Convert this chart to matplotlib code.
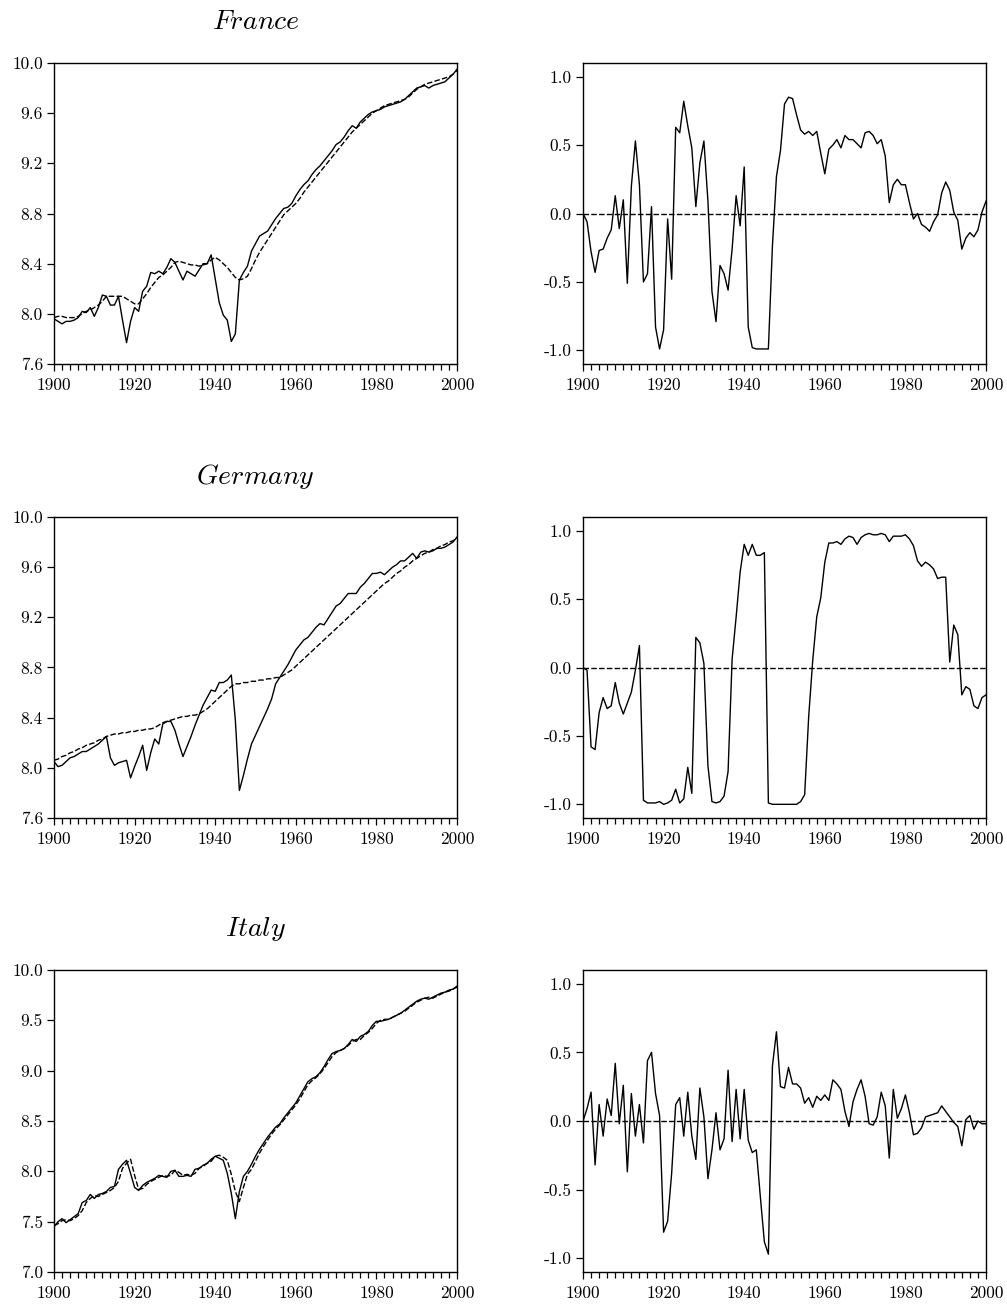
import numpy as np
import matplotlib
matplotlib.use("Agg")
import matplotlib.pyplot as plt
from matplotlib.ticker import MultipleLocator, FixedLocator, FixedFormatter

plt.rcParams["font.family"] = "serif"
plt.rcParams["font.serif"] = ["cmr10", "DejaVu Serif"]
plt.rcParams["mathtext.fontset"] = "cm"
plt.rcParams["axes.unicode_minus"] = False
plt.rcParams["axes.linewidth"] = 1.0

years = np.arange(1900, 2001)

countries = ["France", "Germany", "Italy"]

# log real GDP per capita (solid) and its trend (dashed)
france_gdp = [
    7.96, 7.94, 7.92, 7.94, 7.94, 7.95, 7.97, 8.02, 8.01, 8.05,
    7.98, 8.05, 8.15, 8.14, 8.07, 8.07, 8.14, 7.95, 7.77, 7.94,
    8.05, 8.02, 8.18, 8.22, 8.33, 8.32, 8.34, 8.32, 8.37, 8.44,
    8.41, 8.34, 8.27, 8.34, 8.32, 8.30, 8.35, 8.40, 8.40, 8.47,
    8.28, 8.09, 7.99, 7.95, 7.78, 7.84, 8.27, 8.33, 8.38, 8.50,
    8.56, 8.62, 8.64, 8.66, 8.71, 8.76, 8.80, 8.84, 8.85, 8.88,
    8.94, 8.99, 9.03, 9.06, 9.11, 9.15, 9.18, 9.22, 9.26, 9.30,
    9.35, 9.37, 9.41, 9.46, 9.50, 9.48, 9.53, 9.56, 9.59, 9.61,
    9.62, 9.63, 9.65, 9.66, 9.67, 9.68, 9.69, 9.71, 9.74, 9.77,
    9.80, 9.81, 9.82, 9.80, 9.82, 9.83, 9.84, 9.85, 9.88, 9.91,
    9.95,
]
france_trend = [
    7.97, 7.98, 7.98, 7.97, 7.97, 7.97, 7.98, 8.00, 8.02, 8.03,
    8.05, 8.07, 8.10, 8.14, 8.14, 8.14, 8.14, 8.14, 8.12, 8.10,
    8.08, 8.08, 8.12, 8.16, 8.21, 8.25, 8.29, 8.31, 8.34, 8.37,
    8.41, 8.42, 8.41, 8.40, 8.39, 8.39, 8.38, 8.39, 8.40, 8.43,
    8.45, 8.43, 8.40, 8.37, 8.33, 8.29, 8.27, 8.28, 8.30, 8.36,
    8.43, 8.49, 8.54, 8.59, 8.64, 8.69, 8.74, 8.79, 8.82, 8.85,
    8.88, 8.92, 8.97, 9.01, 9.05, 9.09, 9.13, 9.17, 9.21, 9.25,
    9.29, 9.33, 9.37, 9.41, 9.45, 9.48, 9.51, 9.54, 9.57, 9.60,
    9.62, 9.64, 9.66, 9.67, 9.68, 9.69, 9.70, 9.71, 9.73, 9.76,
    9.79, 9.81, 9.83, 9.84, 9.85, 9.86, 9.87, 9.88, 9.89, 9.91,
    9.94,
]
germany_gdp = [
    8.05, 8.01, 8.02, 8.05, 8.08, 8.09, 8.11, 8.13, 8.13, 8.15,
    8.17, 8.19, 8.22, 8.25, 8.08, 8.02, 8.04, 8.05, 8.06, 7.92,
    8.01, 8.09, 8.18, 7.98, 8.12, 8.23, 8.19, 8.35, 8.37, 8.37,
    8.30, 8.19, 8.09, 8.17, 8.25, 8.34, 8.42, 8.50, 8.56, 8.62,
    8.61, 8.68, 8.68, 8.70, 8.74, 8.38, 7.82, 7.94, 8.07, 8.19,
    8.26, 8.33, 8.40, 8.47, 8.55, 8.67, 8.72, 8.77, 8.82, 8.88,
    8.94, 8.98, 9.02, 9.04, 9.08, 9.12, 9.15, 9.14, 9.19, 9.24,
    9.29, 9.31, 9.35, 9.39, 9.39, 9.39, 9.44, 9.47, 9.51, 9.55,
    9.55, 9.56, 9.54, 9.57, 9.60, 9.62, 9.65, 9.65, 9.68, 9.71,
    9.67, 9.72, 9.73, 9.72, 9.73, 9.75, 9.75, 9.76, 9.78, 9.80,
    9.84,
]
germany_trend = [
    8.06, 8.07, 8.09, 8.10, 8.12, 8.13, 8.15, 8.16, 8.18, 8.19,
    8.20, 8.22, 8.23, 8.25, 8.26, 8.27, 8.27, 8.28, 8.28, 8.29,
    8.29, 8.30, 8.30, 8.31, 8.31, 8.32, 8.34, 8.36, 8.37, 8.38,
    8.39, 8.40, 8.41, 8.41, 8.42, 8.42, 8.43, 8.45, 8.47, 8.50,
    8.53, 8.56, 8.59, 8.62, 8.65, 8.67, 8.67, 8.68, 8.68, 8.69,
    8.69, 8.70, 8.70, 8.71, 8.71, 8.72, 8.72, 8.74, 8.76, 8.78,
    8.81, 8.84, 8.87, 8.90, 8.93, 8.96, 8.99, 9.02, 9.05, 9.08,
    9.11, 9.14, 9.17, 9.20, 9.23, 9.26, 9.29, 9.32, 9.35, 9.38,
    9.41, 9.44, 9.47, 9.49, 9.52, 9.55, 9.57, 9.60, 9.62, 9.65,
    9.67, 9.69, 9.71, 9.72, 9.74, 9.75, 9.77, 9.78, 9.80, 9.81,
    9.83,
]
italy_gdp = [
    7.45, 7.50, 7.53, 7.49, 7.52, 7.55, 7.58, 7.69, 7.71, 7.77,
    7.73, 7.77, 7.78, 7.80, 7.84, 7.85, 8.02, 8.07, 8.11, 7.98,
    7.84, 7.81, 7.86, 7.89, 7.91, 7.93, 7.96, 7.95, 7.94, 8.00,
    8.01, 7.95, 7.95, 7.96, 7.95, 8.02, 8.03, 8.06, 8.08, 8.12,
    8.15, 8.13, 8.11, 7.98, 7.78, 7.53, 7.80, 7.95, 8.00, 8.07,
    8.15, 8.22, 8.28, 8.34, 8.39, 8.44, 8.47, 8.53, 8.58, 8.63,
    8.68, 8.75, 8.82, 8.89, 8.92, 8.94, 8.98, 9.04, 9.11, 9.17,
    9.19, 9.20, 9.22, 9.26, 9.31, 9.29, 9.34, 9.36, 9.39, 9.45,
    9.49, 9.49, 9.50, 9.51, 9.53, 9.55, 9.57, 9.60, 9.63, 9.66,
    9.69, 9.71, 9.72, 9.71, 9.73, 9.75, 9.77, 9.78, 9.80, 9.81,
    9.84,
]
italy_trend = [
    7.46, 7.48, 7.51, 7.52, 7.51, 7.53, 7.56, 7.61, 7.69, 7.73,
    7.76, 7.75, 7.77, 7.79, 7.81, 7.84, 7.90, 8.03, 8.08, 8.12,
    7.96, 7.82, 7.83, 7.87, 7.90, 7.92, 7.94, 7.96, 7.95, 7.96,
    8.01, 7.99, 7.96, 7.97, 7.96, 7.98, 8.03, 8.05, 8.08, 8.10,
    8.15, 8.16, 8.14, 8.11, 7.97, 7.80, 7.70, 7.84, 7.97, 8.02,
    8.10, 8.18, 8.25, 8.31, 8.37, 8.42, 8.46, 8.51, 8.56, 8.61,
    8.66, 8.72, 8.79, 8.86, 8.90, 8.93, 8.97, 9.02, 9.08, 9.14,
    9.18, 9.20, 9.22, 9.25, 9.29, 9.31, 9.31, 9.35, 9.38, 9.42,
    9.47, 9.50, 9.51, 9.51, 9.53, 9.55, 9.57, 9.59, 9.62, 9.65,
    9.68, 9.70, 9.72, 9.73, 9.72, 9.74, 9.76, 9.78, 9.79, 9.81,
    9.83,
]

# cyclical index in [-1, 1]
france_index = [
    0.00, -0.06, -0.28, -0.43, -0.27, -0.26, -0.18, -0.12, 0.13, -0.11,
    0.10, -0.51, 0.20, 0.53, 0.21, -0.50, -0.44, 0.05, -0.83, -0.99,
    -0.85, -0.04, -0.48, 0.63, 0.59, 0.82, 0.64, 0.48, 0.05, 0.37,
    0.53, 0.09, -0.57, -0.79, -0.38, -0.44, -0.56, -0.26, 0.13, -0.09,
    0.34, -0.83, -0.98, -0.99, -0.99, -0.99, -0.99, -0.24, 0.27, 0.46,
    0.80, 0.85, 0.84, 0.72, 0.61, 0.58, 0.60, 0.57, 0.60, 0.44,
    0.29, 0.47, 0.50, 0.54, 0.48, 0.57, 0.54, 0.54, 0.51, 0.48,
    0.59, 0.60, 0.57, 0.51, 0.54, 0.42, 0.08, 0.21, 0.25, 0.21,
    0.21, 0.08, -0.04, 0.00, -0.08, -0.10, -0.13, -0.06, -0.01, 0.15,
    0.23, 0.17, 0.01, -0.05, -0.26, -0.18, -0.14, -0.17, -0.12, 0.01,
    0.09,
]
germany_index = [
    0.00, -0.02, -0.58, -0.60, -0.33, -0.22, -0.30, -0.28, -0.11, -0.26,
    -0.34, -0.26, -0.18, -0.02, 0.16, -0.97, -0.99, -0.99, -0.99, -0.98,
    -1.00, -0.99, -0.97, -0.89, -0.99, -0.96, -0.73, -0.92, 0.22, 0.18,
    0.03, -0.72, -0.98, -0.99, -0.98, -0.94, -0.76, 0.06, 0.37, 0.70,
    0.90, 0.82, 0.90, 0.82, 0.82, 0.84, -0.99, -1.00, -1.00, -1.00,
    -1.00, -1.00, -1.00, -1.00, -0.98, -0.93, -0.36, 0.05, 0.37, 0.51,
    0.77, 0.91, 0.91, 0.92, 0.90, 0.94, 0.96, 0.95, 0.90, 0.95,
    0.97, 0.98, 0.97, 0.97, 0.98, 0.97, 0.92, 0.96, 0.96, 0.96,
    0.97, 0.94, 0.89, 0.78, 0.74, 0.77, 0.75, 0.72, 0.65, 0.66,
    0.66, 0.04, 0.31, 0.24, -0.20, -0.14, -0.16, -0.28, -0.30, -0.22,
    -0.20,
]
italy_index = [
    0.00, 0.09, 0.21, -0.32, 0.12, -0.11, 0.16, 0.04, 0.42, -0.02,
    0.26, -0.37, 0.20, -0.11, 0.12, -0.16, 0.44, 0.50, 0.20, 0.04,
    -0.81, -0.73, -0.38, 0.12, 0.17, -0.11, 0.21, -0.11, -0.28, 0.24,
    0.03, -0.42, -0.21, 0.06, -0.21, -0.13, 0.37, -0.15, 0.23, -0.13,
    0.23, -0.14, -0.23, -0.21, -0.55, -0.88, -0.97, 0.40, 0.65, 0.25,
    0.24, 0.39, 0.27, 0.27, 0.24, 0.13, 0.17, 0.10, 0.18, 0.15,
    0.19, 0.15, 0.30, 0.27, 0.23, 0.07, -0.04, 0.14, 0.23, 0.30,
    0.18, -0.02, -0.03, 0.03, 0.21, 0.11, -0.27, 0.23, 0.02, 0.09,
    0.19, 0.06, -0.10, -0.09, -0.05, 0.03, 0.04, 0.05, 0.06, 0.11,
    0.07, 0.03, -0.01, -0.04, -0.18, 0.01, 0.04, -0.06, 0.00, -0.02,
    -0.02,
]

gdp_series = [france_gdp, germany_gdp, italy_gdp]
trend_series = [france_trend, germany_trend, italy_trend]
index_series = [france_index, germany_index, italy_index]

gdp_ylims = [(7.6, 10.0), (7.6, 10.0), (7.0, 10.0)]
gdp_yticks = [
    [7.6, 8.0, 8.4, 8.8, 9.2, 9.6, 10.0],
    [7.6, 8.0, 8.4, 8.8, 9.2, 9.6, 10.0],
    [7.0, 7.5, 8.0, 8.5, 9.0, 9.5, 10.0],
]
index_yticks = [-1.0, -0.5, 0.0, 0.5, 1.0]
year_ticks = [1900, 1920, 1940, 1960, 1980, 2000]

W, H = 1007, 1306
fig = plt.figure(figsize=(W / 100, H / 100), dpi=100)

row_tops = [63, 517, 970]
row_heights = [301, 301, 302]
left_x, right_x, ax_w = 54, 583, 403
title_y = [22, 476, 929]

TICK_FS = 12.5


def style_axis(ax):
    ax.set_xlim(1900, 2000)
    ax.xaxis.set_major_locator(FixedLocator(year_ticks))
    ax.xaxis.set_major_formatter(FixedFormatter([str(y) for y in year_ticks]))
    ax.xaxis.set_minor_locator(MultipleLocator(2))
    ax.tick_params(axis="both", which="major", direction="out", length=5,
                   width=0.9, labelsize=TICK_FS, pad=3)
    ax.tick_params(axis="x", which="major", pad=5)
    ax.tick_params(axis="x", which="minor", direction="out", length=4,
                   width=0.9)
    for sp in ax.spines.values():
        sp.set_linewidth(1.0)


for i in range(3):
    top = row_tops[i]
    h = row_heights[i]
    bottom = 1 - (top + h) / H

    axl = fig.add_axes([left_x / W, bottom, ax_w / W, h / H])
    axl.plot(years, gdp_series[i], color="black", lw=1.0)
    axl.plot(years, trend_series[i], color="black", lw=1.0,
             linestyle=(0, (4, 1.6)))
    axl.set_ylim(*gdp_ylims[i])
    axl.yaxis.set_major_locator(FixedLocator(gdp_yticks[i]))
    axl.yaxis.set_major_formatter(
        FixedFormatter([f"{v:.1f}" for v in gdp_yticks[i]]))
    style_axis(axl)

    axr = fig.add_axes([right_x / W, bottom, ax_w / W, h / H])
    axr.plot(years, index_series[i], color="black", lw=1.0)
    axr.axhline(0.0, color="black", lw=1.0, linestyle=(0, (4, 1.6)))
    axr.set_ylim(-1.1, 1.1)
    axr.yaxis.set_major_locator(FixedLocator(index_yticks))
    axr.yaxis.set_major_formatter(
        FixedFormatter([f"{v:.1f}" for v in index_yticks]))
    style_axis(axr)

    fig.text((left_x + ax_w / 2) / W, 1 - title_y[i] / H,
             r"$\mathit{" + countries[i] + "}$",
             ha="center", va="center", fontsize=20)

fig.savefig("out.png", dpi=100)
